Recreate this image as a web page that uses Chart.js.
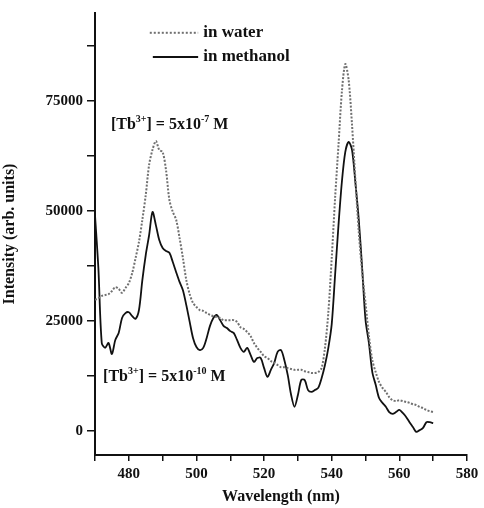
<!DOCTYPE html>
<html>
<head>
<meta charset="utf-8">
<script src="https://cdn.jsdelivr.net/npm/chart.js@4.4.1/dist/chart.umd.min.js"></script>
<style>
  html, body { margin: 0; padding: 0; background: #fff; }
  #wrap { width: 484px; height: 508px; }
</style>
</head>
<body>
<div id="wrap"><canvas id="spectrum" width="484" height="508"></canvas></div>
<script>
// emission spectra, 470-570 nm in 1 nm steps
const wavelengths = [
  470, 471, 472, 473, 474, 475, 476, 477, 478, 479,
  480, 481, 482, 483, 484, 485, 486, 487, 488, 489,
  490, 491, 492, 493, 494, 495, 496, 497, 498, 499,
  500, 501, 502, 503, 504, 505, 506, 507, 508, 509,
  510, 511, 512, 513, 514, 515, 516, 517, 518, 519,
  520, 521, 522, 523, 524, 525, 526, 527, 528, 529,
  530, 531, 532, 533, 534, 535, 536, 537, 538, 539,
  540, 541, 542, 543, 544, 545, 546, 547, 548, 549,
  550, 551, 552, 553, 554, 555, 556, 557, 558, 559,
  560, 561, 562, 563, 564, 565, 566, 567, 568, 569,
  570
];
const inWater = [
  29800, 30200, 30700, 30900, 31100, 31800, 32700, 32300, 31400, 32500,
  33600, 35900, 39300, 43000, 48000, 53600, 60500, 63900, 65900, 63900,
  63400, 59300, 52500, 49800, 48000, 43900, 39300, 34300, 31100, 29100,
  28200, 27500, 27300, 26800, 26400, 26100, 25900, 25700, 25200, 25200,
  25200, 25200, 24800, 23600, 23200, 22500, 21600, 20000, 18900, 18000,
  17000, 16600, 15900, 15500, 15000, 14500, 14500, 14300, 14100, 13900,
  13900, 13900, 13600, 13400, 13200, 13200, 13400, 14300, 18900, 27000,
  39300, 53000, 65000, 77100, 83400, 79800, 69600, 57100, 45200, 36100,
  29000, 21600, 16100, 13400, 11100, 9800, 8900, 7700, 7000, 6800,
  7000, 6800, 6600, 6400, 6100, 5900, 5500, 5200, 4800, 4500,
  4300
];
const inMethanol = [
  49100, 37000, 20000, 18900, 20000, 17500, 20700, 22300, 25700, 26800,
  27000, 26100, 25500, 27500, 34300, 40000, 44500, 49800, 46800, 43400,
  41600, 40900, 40500, 38400, 36100, 33900, 32000, 28600, 24800, 21100,
  19100, 18400, 18900, 21100, 23900, 25700, 26400, 25200, 23900, 23400,
  22700, 22300, 20700, 18900, 18000, 18900, 17300, 15700, 16600, 16600,
  14300, 12300, 13900, 15500, 18000, 18400, 16100, 12700, 8200, 5500,
  8200, 11600, 11600, 9300, 8900, 9300, 9800, 12000, 15000, 18900,
  24300, 35500, 46800, 56600, 63400, 65700, 63900, 56400, 48000, 37000,
  25200, 20000, 13400, 10500, 7500, 6400, 5500, 4300, 3900, 4300,
  4800, 4100, 3200, 2000, 900, -200, 200, 700, 2000, 2000,
  1800
];
const xTicks = [470, 480, 490, 500, 510, 520, 530, 540, 550, 560, 570, 580];
const xLabels = [480, 500, 520, 540, 560, 580];
const yTicks = [0, 12500, 25000, 37500, 50000, 62500, 75000, 87500];
const yLabels = [0, 25000, 50000, 75000];

const serif = "'Liberation Serif', 'DejaVu Serif', serif";
const waterColor = '#707070';

// draws "[Tb3+] = 5x10^exp M" with raised superscripts
function drawConc(ctx, px, py, exp) {
  const big = 'bold 16px ' + serif;
  const small = 'bold 10px ' + serif;
  const parts = [
    ['[Tb', big, 0], ['3+', small, -6], ['] = 5x10', big, 0], [exp, small, -6], [' M', big, 0]
  ];
  ctx.textAlign = 'left';
  ctx.textBaseline = 'middle';
  let cx = px;
  parts.forEach(([txt, font, dy]) => {
    ctx.font = font;
    ctx.fillText(txt, cx, py + dy);
    cx += ctx.measureText(txt).width;
  });
}

const notes = {
  id: 'notes',
  afterDatasetsDraw(chart) {
    const { ctx, scales: { x, y } } = chart;
    ctx.save();
    ctx.fillStyle = '#111';
    drawConc(ctx, x.getPixelForValue(474.7), y.getPixelForValue(69500), '-7');
    drawConc(ctx, x.getPixelForValue(472.4), y.getPixelForValue(12200), '-10');

    // legend
    const rows = [
      { label: 'in water', color: waterColor, dash: [2, 2], y: 90500, x0: 486.2 },
      { label: 'in methanol', color: '#111', dash: [], y: 85000, x0: 487.1 }
    ];
    rows.forEach(r => {
      const py = y.getPixelForValue(r.y);
      ctx.beginPath();
      ctx.setLineDash(r.dash);
      ctx.strokeStyle = r.color;
      ctx.lineWidth = 2;
      ctx.moveTo(x.getPixelForValue(r.x0), py);
      ctx.lineTo(x.getPixelForValue(500.5), py);
      ctx.stroke();
      ctx.setLineDash([]);
      ctx.font = 'bold 17px ' + serif;
      ctx.textBaseline = 'middle';
      ctx.fillText(r.label, x.getPixelForValue(502), py);
    });
    ctx.restore();
  }
};

const pairs = arr => arr.map((v, i) => ({ x: wavelengths[i], y: v }));

new Chart(document.getElementById('spectrum'), {
  type: 'line',
  data: {
    datasets: [
      {
        label: 'in water',
        data: pairs(inWater),
        borderColor: waterColor,
        borderDash: [2, 1.6],
        borderWidth: 2,
        pointRadius: 0,
        tension: 0.3
      },
      {
        label: 'in methanol',
        data: pairs(inMethanol),
        borderColor: '#111',
        borderWidth: 1.8,
        pointRadius: 0,
        tension: 0.3
      }
    ]
  },
  options: {
    responsive: false,
    animation: false,
    devicePixelRatio: 1,
    layout: { padding: { top: 13, right: 17, left: 0, bottom: 0 } },
    plugins: { legend: { display: false }, tooltip: { enabled: false } },
    scales: {
      x: {
        type: 'linear',
        min: 470,
        max: 580,
        afterBuildTicks: s => { s.ticks = xTicks.map(v => ({ value: v })); },
        afterFit: s => { s.height = 53; },
        grid: { drawOnChartArea: false, drawTicks: true, tickLength: 6, color: '#111', lineWidth: 1.5 },
        border: { color: '#111', width: 2 },
        ticks: {
          autoSkip: false,
          maxRotation: 0,
          padding: 4,
          color: '#111',
          font: { family: serif, size: 15, weight: 'bold' },
          callback: v => xLabels.includes(v) ? String(v) : ''
        },
        title: {
          display: true,
          text: 'Wavelength (nm)',
          color: '#111',
          padding: { top: 0, bottom: 2 },
          font: { family: serif, size: 16, weight: 'bold' }
        }
      },
      y: {
        min: -5450,
        max: 95000,
        afterBuildTicks: s => { s.ticks = yTicks.map(v => ({ value: v })); },
        afterFit: s => { s.width = 95; },
        grid: { drawOnChartArea: false, drawTicks: true, tickLength: 8, color: '#111', lineWidth: 1.5 },
        border: { color: '#111', width: 2 },
        ticks: {
          autoSkip: false,
          padding: 4,
          color: '#111',
          font: { family: serif, size: 15, weight: 'bold' },
          callback: v => yLabels.includes(v) ? String(v) : ''
        },
        title: {
          display: true,
          text: 'Intensity (arb. units)',
          color: '#111',
          padding: { top: 0, bottom: 0 },
          font: { family: serif, size: 16, weight: 'bold' }
        }
      }
    }
  },
  plugins: [notes]
});
</script>
</body>
</html>
